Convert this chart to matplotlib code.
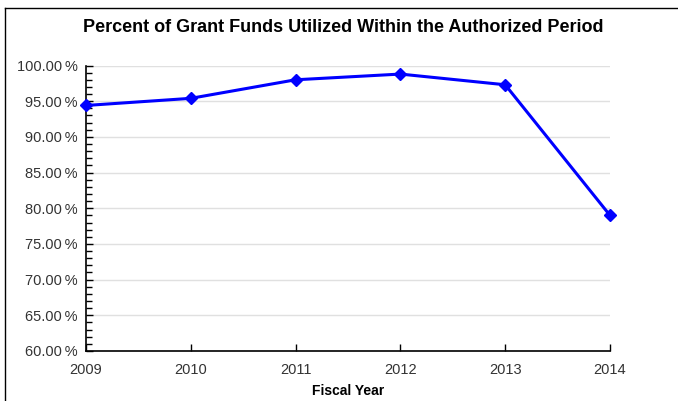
import matplotlib
matplotlib.use("Agg")
import matplotlib.pyplot as plt
from matplotlib.ticker import MultipleLocator, FuncFormatter
from matplotlib.lines import Line2D

plt.rcParams['font.family'] = ['Liberation Sans', 'DejaVu Sans']

years = [2009, 2010, 2011, 2012, 2013, 2014]
pct_utilized = [94.4, 95.4, 98.0, 98.8, 97.3, 79.0]
title = "Percent of Grant Funds Utilized Within the Authorized Period"
xlabel = "Fiscal Year"

fig = plt.figure(figsize=(6.78, 4.01), dpi=100)
ax = fig.add_axes([86/678, 1-351/401, (610-86)/678, (351-65.5)/401])

ax.plot(years, pct_utilized, color='#0000ff', lw=2.2, marker='D', markersize=6, zorder=3, clip_on=False)

ax.set_xlim(2009, 2014)
ax.set_ylim(60, 100)
ax.yaxis.set_major_locator(MultipleLocator(5))
ax.yaxis.set_minor_locator(MultipleLocator(1))
ax.yaxis.set_major_formatter(FuncFormatter(lambda v, p: f"{v:.2f}\u2009%"))
ax.set_xticks(years)
ax.set_xticklabels([str(y) for y in years])

ax.grid(axis='y', which='major', color='#e0e0e0', lw=1)
ax.set_axisbelow(True)
for s in ['top', 'right']:
    ax.spines[s].set_visible(False)
for s in ['left', 'bottom']:
    ax.spines[s].set_color('black')
    ax.spines[s].set_linewidth(1.2)

ax.tick_params(axis='y', which='major', direction='in', length=5, width=1, labelsize=10.5, labelcolor='#333333', pad=6)
ax.tick_params(axis='y', which='minor', direction='in', length=4, width=1)
ax.tick_params(axis='x', which='major', direction='in', length=5, width=1, labelsize=10.5, labelcolor='#333333', pad=9)

ax.set_xlabel(xlabel, fontsize=10, fontweight='bold', labelpad=5)
fig.text(343/678, 1-28/401, title, ha='center', va='center', fontsize=13, fontweight='bold')

# figure border (top and left)
fig.add_artist(Line2D([5/678, 5/678], [0, 1-8/401], transform=fig.transFigure, color='black', lw=1))
fig.add_artist(Line2D([5/678, 1], [1-8/401, 1-8/401], transform=fig.transFigure, color='black', lw=1))

fig.savefig("out.png", dpi=100)
